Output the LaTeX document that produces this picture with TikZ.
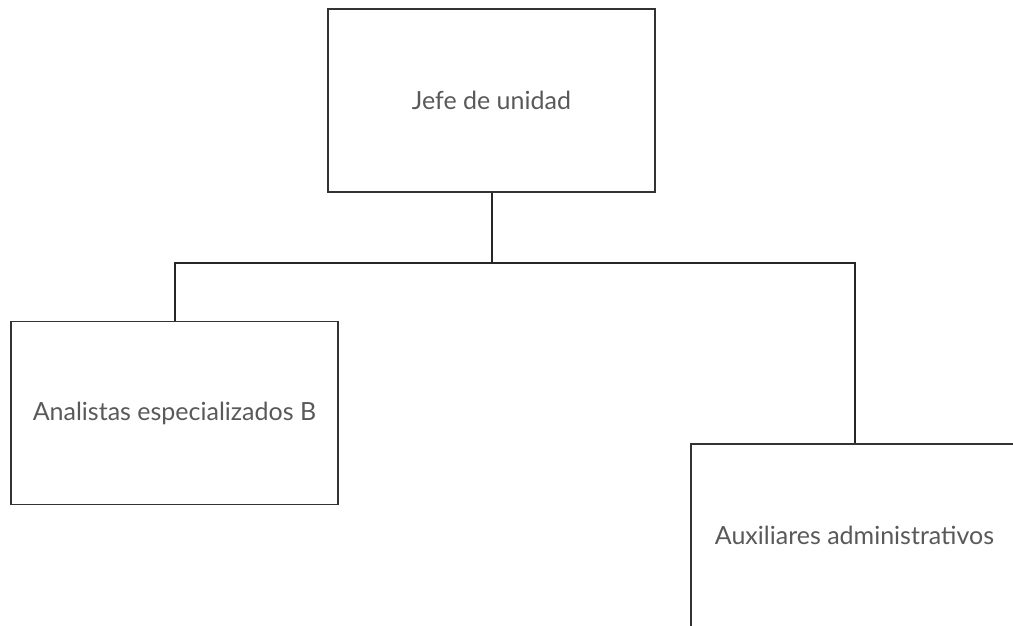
\documentclass[tikz,border=0pt]{standalone}
\usepackage{fontspec}
\setmainfont{Lato}
\begin{document}
\begin{tikzpicture}[x=1pt,y=-1pt,
  caja/.style={draw=black!80,line width=1.2pt,minimum width=327pt,minimum height=183pt,inner sep=0pt,text=black!65,font=\fontsize{25}{28}\selectfont},
  linea/.style={draw=black!85,line width=2pt}]
\useasboundingbox (0,0) rectangle (1013,625);
\clip (0,0) rectangle (1013,625);
\node[caja](jefe) at (491.5,100.5){Jefe de unidad};
\node[caja](analistas) at (174.5,413){Analistas especializados B};
\node[caja](auxiliares) at (854.5,535.5){Auxiliares administrativos};
\coordinate (bus) at (491.5,263);
\draw[linea](jefe.south)--(bus);
\draw[linea](analistas.north)|-(bus)-|(auxiliares.north);
\end{tikzpicture}
\end{document}
